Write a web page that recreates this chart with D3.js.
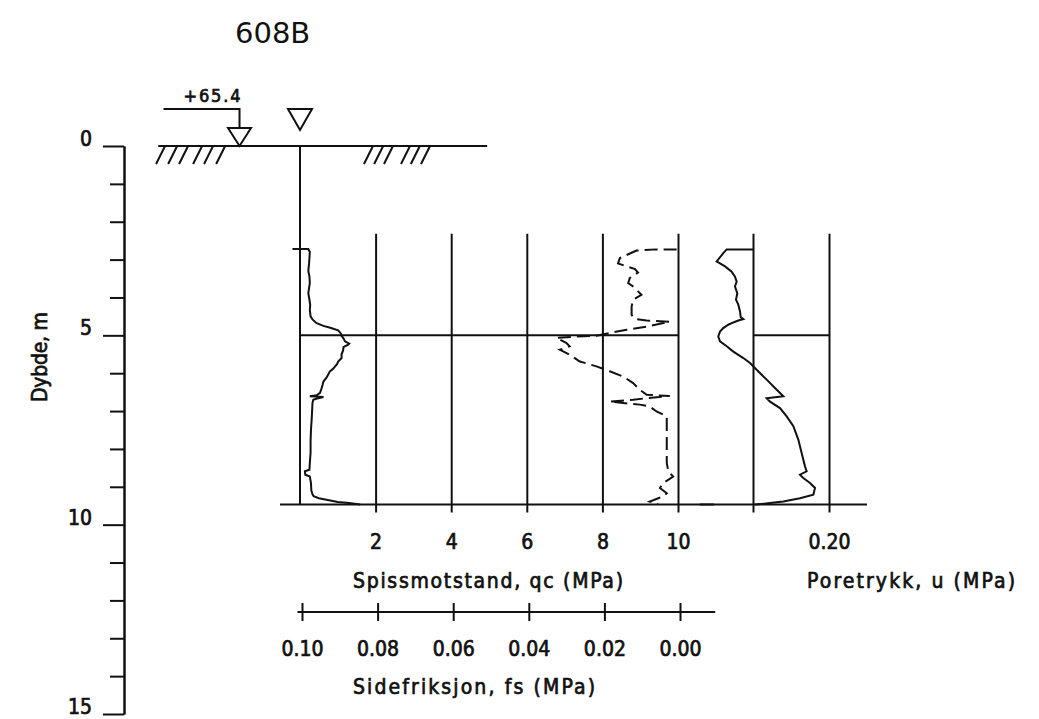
<!DOCTYPE html>
<html>
<head>
<meta charset="utf-8">
<script src="https://cdn.jsdelivr.net/npm/d3@7"></script>
<style>
  body { margin: 0; background: #fff; }
  svg text { font-family: 'Liberation Sans Narrow', 'DejaVu Sans Condensed', sans-serif; fill: #111; stroke: #111; stroke-width: 0.7px; }
  .ln { fill: none; stroke: #111; stroke-width: 2px; }
</style>
</head>
<body>
<script>
'use strict'

// CPTU sounding 608B (depth in m)
const qcDepth = [2.72, 2.72, 2.80, 2.95, 3.10, 3.30, 3.45, 3.62, 3.75, 3.89, 4.06, 4.20, 4.33, 4.50, 4.58, 4.68, 4.75, 4.80, 4.87, 4.95, 5.01, 5.08, 5.16, 5.22, 5.25, 5.31, 5.40, 5.50, 5.60, 5.69, 5.76, 5.82, 5.90, 5.95, 6.05, 6.12, 6.22, 6.30, 6.40, 6.52, 6.58, 6.61, 6.63, 6.67, 6.70, 6.79, 7.00, 7.20, 7.50, 7.80, 8.10, 8.37, 8.55, 8.59, 8.68, 8.73, 8.90, 9.10, 9.20, 9.25, 9.30, 9.36, 9.40, 9.43, 9.47]
const qcValue = [-0.2, 0.22, 0.26, 0.25, 0.24, 0.22, 0.25, 0.26, 0.24, 0.22, 0.25, 0.27, 0.26, 0.28, 0.33, 0.44, 0.62, 0.80, 1.01, 1.08, 1.10, 1.15, 1.19, 1.30, 1.26, 1.15, 1.14, 1.10, 1.10, 1.01, 0.98, 0.93, 0.86, 0.79, 0.74, 0.70, 0.62, 0.60, 0.57, 0.53, 0.45, 0.26, 0.62, 0.45, 0.35, 0.33, 0.32, 0.31, 0.29, 0.28, 0.28, 0.26, 0.25, 0.13, 0.14, 0.26, 0.29, 0.30, 0.33, 0.36, 0.50, 0.80, 1.00, 1.30, 1.59]

const fsDepth = [2.73, 2.73, 2.76, 2.96, 3.10, 3.18, 3.25, 3.34, 3.49, 3.62, 3.71, 3.84, 3.93, 4.06, 4.24, 4.46, 4.57, 4.61, 4.64, 4.77, 4.85, 4.94, 5.01, 5.03, 5.07, 5.20, 5.29, 5.38, 5.51, 5.69, 5.82, 5.95, 6.09, 6.26, 6.44, 6.57, 6.60, 6.66, 6.70, 6.75, 6.79, 6.83, 6.88, 7.01, 7.14, 7.49, 7.93, 8.37, 8.59, 8.73, 8.90, 9.03, 9.17, 9.25, 9.39, 9.45]
const fsValue = [0.0009, 0.0062, 0.0115, 0.0159, 0.0164, 0.0141, 0.0119, 0.0111, 0.0133, 0.0137, 0.0124, 0.0111, 0.0102, 0.0124, 0.0128, 0.0128, 0.0119, 0.0088, 0.0027, 0.0088, 0.0141, 0.0186, 0.0221, 0.0274, 0.0327, 0.0301, 0.0292, 0.0318, 0.0292, 0.0265, 0.0221, 0.0186, 0.0150, 0.0124, 0.0106, 0.0088, 0.0027, 0.0088, 0.0124, 0.0186, 0.0150, 0.0106, 0.0080, 0.0062, 0.0035, 0.0035, 0.0035, 0.0035, 0.0031, 0.0018, 0.0044, 0.0053, 0.0035, 0.0044, 0.0080, 0.0058]

const uDepth = [2.73, 2.73, 2.83, 3.05, 3.10, 3.18, 3.32, 3.45, 3.58, 3.71, 3.89, 4.06, 4.19, 4.37, 4.52, 4.57, 4.61, 4.66, 4.72, 4.81, 4.90, 5.03, 5.16, 5.29, 5.43, 5.60, 5.73, 5.91, 6.17, 6.39, 6.61, 6.66, 6.75, 6.92, 7.14, 7.40, 7.76, 8.11, 8.46, 8.59, 8.68, 8.77, 8.90, 9.03, 9.21, 9.30, 9.39, 9.43, 9.47]
const uValue = [0.1004, 0.0654, 0.0609, 0.0522, 0.0566, 0.0632, 0.0719, 0.0763, 0.0785, 0.0763, 0.0794, 0.0776, 0.0807, 0.0829, 0.0838, 0.0873, 0.0807, 0.0741, 0.0675, 0.0609, 0.0566, 0.0543, 0.0566, 0.0654, 0.0741, 0.0873, 0.0961, 0.1048, 0.1180, 0.1289, 0.1399, 0.1180, 0.1224, 0.1355, 0.1443, 0.1531, 0.1597, 0.1640, 0.1684, 0.1706, 0.1618, 0.1662, 0.1750, 0.1816, 0.1794, 0.1618, 0.1399, 0.1224, 0.1026]

const depthMajor = [0, 5, 10, 15]
const depthMinor = [1, 2, 3, 4, 6, 7, 8, 9, 11, 12, 13, 14]
const qcTicks = [2, 4, 6, 8, 10]
const fsTicks = [0.10, 0.08, 0.06, 0.04, 0.02, 0.00]
const uTicks = [0.10, 0.20]
const uLabels = ['', '0.20']
const hatchAt = [-3.57, -3.25, -2.96, -2.59, -2.30, -1.98, 1.93, 2.20, 2.46, 2.91, 3.17, 3.44]

const title = '608B'
const elevation = '+65.4'
const depthTitle = 'Dybde, m'
const qcTitle = 'Spissmotstand, qc (MPa)'
const fsTitle = 'Sidefriksjon, fs (MPa)'
const uTitle = 'Poretrykk, u (MPa)'

const gridTop = 2.32
const gridBottom = 9.47
const gridEnd = 9.68

const width = 1039
const height = 719

const y = d3.scaleLinear().domain([0, 15]).range([146, 714])
const xq = d3.scaleLinear().domain([0, 10]).range([300, 678])
const xf = d3.scaleLinear().domain([0.10, 0]).range([302, 680])
const xu = d3.scaleLinear().domain([0.10, 0.20]).range([753, 829])

const svg = d3.select('body').append('svg')
    .attr('width', width)
    .attr('height', height)

svg.append('rect').attr('width', width).attr('height', height).attr('fill', '#fff')

const styleAxis = g => {
  g.attr('font-family', null).attr('font-size', null)
  g.selectAll('line, path').attr('stroke', '#111').attr('stroke-width', 2)
}

// title
svg.append('text')
    .attr('x', 235)
    .attr('y', 43)
    .style('font-family', "'DejaVu Sans', sans-serif")
    .style('font-size', '29px')
    .style('stroke-width', '0px')
    .attr('fill', '#222')
    .text(title)

// depth axis
svg.append('g')
    .attr('transform', 'translate(124,0)')
    .call(d3.axisLeft(y).tickValues(depthMinor).tickSize(14).tickSizeOuter(0).tickFormat(''))
    .call(styleAxis)

svg.append('g')
    .attr('transform', 'translate(124,0)')
    .call(d3.axisLeft(y).tickValues(depthMajor).tickSize(21).tickSizeOuter(0).tickPadding(11))
    .call(styleAxis)
  .selectAll('text')
    .attr('dy', '-0.02em')
    .style('font-size', '21px')

svg.append('text')
    .attr('transform', 'translate(47,357) rotate(-90)')
    .style('text-anchor', 'middle')
    .style('font-size', '21px')
    .attr('textLength', 90)
    .text(depthTitle)

// ground surface with hatching
svg.append('line').attr('class', 'ln')
    .attr('x1', xq(-3.75)).attr('x2', xq(4.95))
    .attr('y1', y(0)).attr('y2', y(0))

svg.selectAll('.hatch')
    .data(hatchAt)
  .enter().append('line')
    .attr('class', 'ln hatch')
    .attr('x1', d => xq(d)).attr('y1', y(0))
    .attr('x2', d => xq(d) - 9).attr('y2', y(0) + 18)

// elevation marker
const ex = xq(-1.6)
svg.append('path').attr('class', 'ln')
    .attr('d', `M${ex - 76},109H${ex}V128`)
svg.append('path').attr('class', 'ln').attr('fill', '#fff')
    .attr('d', `M${ex - 11.5},128H${ex + 11.5}L${ex},${y(0)}Z`)
svg.append('text')
    .attr('x', ex - 56)
    .attr('y', 102)
    .style('font-size', '18px')
    .attr('textLength', 57)
    .text(elevation)

// water level marker
const wx = xq(0)
svg.append('path').attr('class', 'ln').attr('fill', '#fff')
    .attr('d', `M${wx - 12},109H${wx + 12}L${wx},130Z`)

// frame of the qc / fs panel
svg.append('line').attr('class', 'ln')
    .attr('x1', xq(0)).attr('x2', xq(0))
    .attr('y1', y(0)).attr('y2', y(gridBottom))

svg.append('line').attr('class', 'ln')
    .attr('x1', xq(-0.53)).attr('x2', xq(10.95))
    .attr('y1', y(gridBottom)).attr('y2', y(gridBottom))

svg.append('line').attr('class', 'ln')
    .attr('x1', xq(0)).attr('x2', xq(10))
    .attr('y1', y(5)).attr('y2', y(5))

svg.append('g')
    .attr('transform', `translate(0,${y(gridEnd)})`)
    .call(d3.axisBottom(xq).tickValues(qcTicks).tickSize(-(y(gridEnd) - y(gridTop))).tickPadding(22))
    .call(g => g.select('.domain').remove())
    .call(styleAxis)
  .selectAll('text')
    .style('font-size', '21px')

svg.append('text')
    .attr('x', 353)
    .attr('y', 588)
    .style('font-size', '21px')
    .attr('textLength', 270)
    .text(qcTitle)

// fs axis, reversed
const fsY = 612
svg.append('line').attr('class', 'ln')
    .attr('x1', xf(0.1012)).attr('x2', xf(-0.0093))
    .attr('y1', fsY).attr('y2', fsY)

svg.append('g')
    .attr('transform', `translate(0,${fsY})`)
    .call(d3.axisBottom(xf).tickValues(fsTicks).tickSize(9).tickPadding(20).tickFormat(d3.format('.2f')))
    .call(g => g.select('.domain').remove())
    .call(styleAxis)
    .call(g => g.selectAll('.tick line').attr('y1', -9))
  .selectAll('text')
    .style('font-size', '21px')

svg.append('text')
    .attr('x', 353)
    .attr('y', 694)
    .style('font-size', '21px')
    .attr('textLength', 242)
    .text(fsTitle)

// pore pressure panel
svg.append('line').attr('class', 'ln')
    .attr('x1', xu(0.03)).attr('x2', xu(0.25))
    .attr('y1', y(gridBottom)).attr('y2', y(gridBottom))

svg.append('line').attr('class', 'ln')
    .attr('x1', xu(0.10)).attr('x2', xu(0.20))
    .attr('y1', y(5)).attr('y2', y(5))

svg.append('g')
    .attr('transform', `translate(0,${y(gridEnd)})`)
    .call(d3.axisBottom(xu).tickValues(uTicks).tickSize(-(y(gridEnd) - y(gridTop))).tickPadding(22).tickFormat((d, i) => uLabels[i]))
    .call(g => g.select('.domain').remove())
    .call(styleAxis)
  .selectAll('text')
    .style('font-size', '21px')

svg.append('text')
    .attr('x', 807)
    .attr('y', 588)
    .style('font-size', '21px')
    .attr('textLength', 208)
    .text(uTitle)

// curves
const qcLine = d3.line().x(d => xq(d[1])).y(d => y(d[0]))
const fsLine = d3.line().x(d => xf(d[1])).y(d => y(d[0]))
const uLine = d3.line().x(d => xu(d[1])).y(d => y(d[0]))

svg.append('path').attr('class', 'ln')
    .attr('d', qcLine(d3.zip(qcDepth, qcValue)))

svg.append('path').attr('class', 'ln')
    .attr('stroke-dasharray', '13,6')
    .attr('d', fsLine(d3.zip(fsDepth, fsValue)))

svg.append('path').attr('class', 'ln')
    .attr('d', uLine(d3.zip(uDepth, uValue)))
</script>
</body>
</html>
